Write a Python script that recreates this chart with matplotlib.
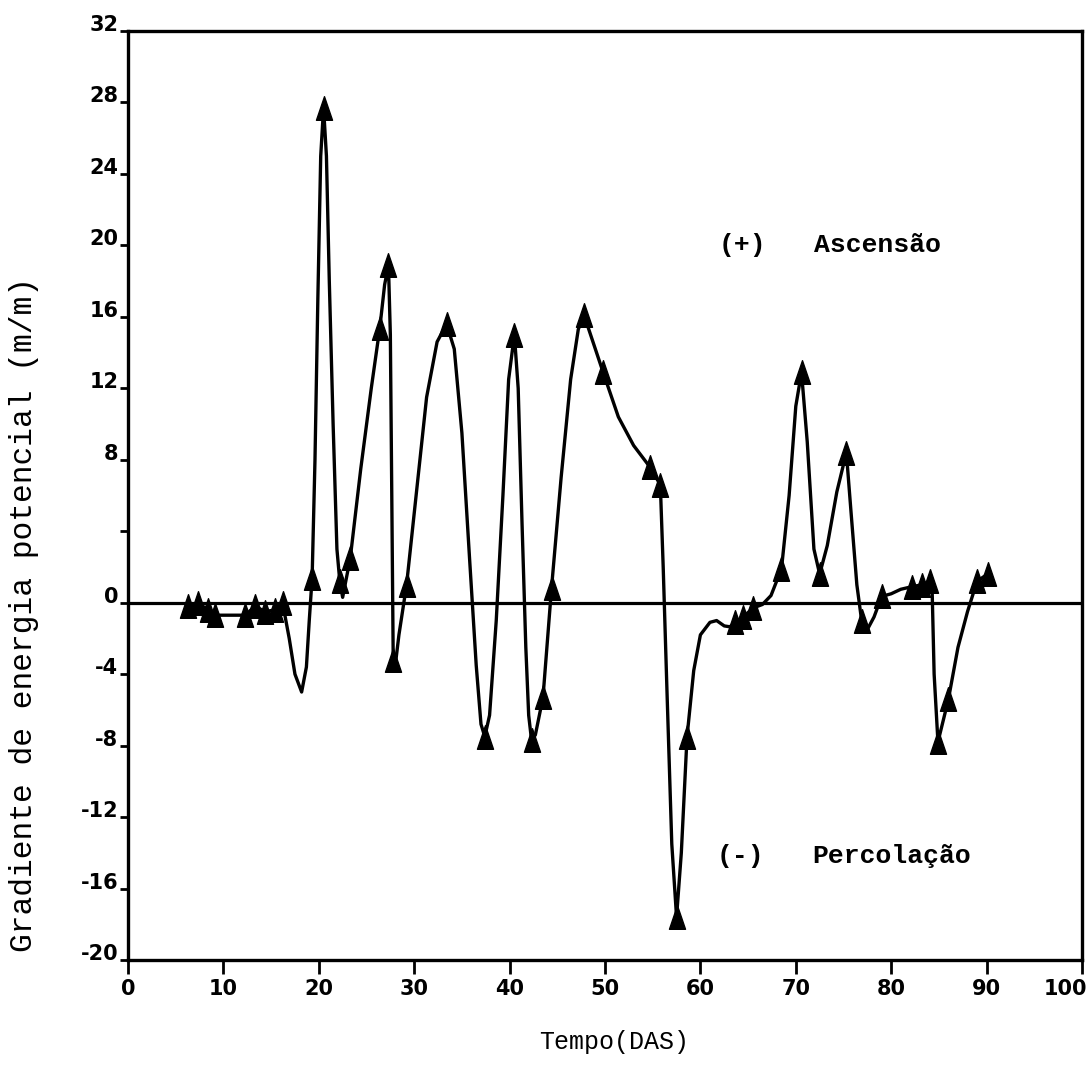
import matplotlib
matplotlib.use("Agg")
import matplotlib.pyplot as plt
from matplotlib.path import Path
from matplotlib.transforms import ScaledTranslation

# ---- data ----
# curve vertices (time in DAS, gradient in m/m)
curve_x = [6.3, 7.3, 8.4, 9.1, 12.3, 13.3, 14.4, 15.4, 16.2, 16.9, 17.5, 18.2, 18.7, 19.0,
           19.3, 19.6, 19.9, 20.2, 20.5, 20.8, 21.1, 21.5, 21.9, 22.2, 22.5, 23.3, 24.4,
           25.5, 26.4, 26.9, 27.3, 27.5, 27.65, 27.8, 27.95, 28.4, 29.2, 30.3, 31.3, 32.4,
           33.4, 34.2, 35.0, 35.8, 36.5, 37.0, 37.4, 37.9, 38.6, 39.3, 39.9, 40.5, 40.9,
           41.3, 41.7, 42.0, 42.3, 42.7, 43.5, 44.4, 45.4, 46.4, 47.2, 47.8, 49.8, 51.4,
           53.0, 54.7, 55.8, 56.1, 56.5, 57.0, 57.5, 58.0, 58.6, 59.3, 60.0, 61.0, 61.7,
           62.5, 63.1, 63.6, 64.5, 65.5, 66.5, 67.4, 68.5, 69.3, 70.0, 70.6, 71.2, 71.9,
           72.5, 73.3, 74.3, 75.3, 75.8, 76.4, 76.9, 77.5, 78.2, 79.0, 80.0, 81.0, 82.2,
           83.2, 84.1, 84.3, 84.5, 84.9, 86.0, 87.0, 88.0, 89.0, 90.1]
curve_y = [-0.2, 0.0, -0.4, -0.7, -0.7, -0.2, -0.5, -0.4, 0.0, -2.0, -4.0, -5.0, -3.6, -1.0,
           1.4, 8.0, 17.0, 25.0, 27.7, 25.0, 18.0, 10.0, 3.0, 1.2, 0.3, 2.5, 7.5,
           12.0, 15.4, 17.8, 18.9, 15.0, 6.0, -3.2, -3.8, -1.8, 1.0, 6.5, 11.5, 14.6,
           15.6, 14.2, 9.5, 2.5, -3.5, -6.8, -7.5, -6.3, -1.0, 6.0, 12.5, 15.0, 12.0,
           4.5, -2.5, -6.3, -7.7, -7.4, -5.3, 0.85, 7.0, 12.5, 15.3, 16.1, 12.9, 10.4,
           8.8, 7.6, 6.6, 2.0, -5.0, -13.5, -17.6, -14.0, -7.5, -3.8, -1.8, -1.1, -1.0,
           -1.3, -1.35, -1.1, -0.8, -0.3, -0.1, 0.4, 1.9, 6.0, 11.0, 12.9, 9.0, 3.0,
           1.6, 3.2, 6.2, 8.4, 5.0, 1.0, -1.0, -1.5, -0.8, 0.35, 0.5, 0.75, 0.9,
           1.0, 1.2, 0.5, -4.0, -7.8, -5.4, -2.5, -0.5, 1.2, 1.6]

# measured points (triangles)
mark_x = [6.3, 7.3, 8.4, 9.1, 12.3, 13.3, 14.4, 15.4, 16.2, 19.3, 20.5, 22.2, 23.3, 26.4,
          27.3, 27.8, 29.2, 33.4, 37.4, 40.5, 42.3, 43.5, 44.4, 47.8, 49.8, 54.7, 55.8,
          57.5, 58.6, 63.6, 64.5, 65.5, 68.5, 70.6, 72.5, 75.3, 76.9, 79.0, 82.2, 83.2,
          84.1, 84.9, 86.0, 89.0, 90.1]
mark_y = [-0.2, 0.0, -0.4, -0.7, -0.7, -0.2, -0.5, -0.4, 0.0, 1.4, 27.7, 1.2, 2.5, 15.4,
          18.9, -3.2, 1.0, 15.6, -7.5, 15.0, -7.7, -5.3, 0.85, 16.1, 12.9, 7.6, 6.6,
          -17.6, -7.5, -1.1, -0.8, -0.3, 1.9, 12.9, 1.6, 8.4, -1.0, 0.35, 0.9, 1.0,
          1.2, -7.8, -5.4, 1.2, 1.6]

x_ticks = [0, 10, 20, 30, 40, 50, 60, 70, 80, 90, 100]
x_ticklabels = ["0", "10", "20", "30", "40", "50", "60", "70", "80", "90", "100"]
y_ticks = [-20, -16, -12, -8, -4, 0, 4, 8, 12, 16, 20, 24, 28, 32]
y_ticklabels = ["-20", "-16", "-12", "-8", "-4", "0", "", "8", "12", "16", "20", "24", "28", "32"]

xlabel = "Tempo(DAS)"
ylabel = "Gradiente de energia potencial (m/m)"

# ---- figure ----
W, H = 1089, 1088
fig = plt.figure(figsize=(W / 100, H / 100), dpi=100)
ax = fig.add_axes([128 / W, 1 - 960 / H, (1082 - 128) / W, (960 - 31) / H])

ax.set_xlim(0, 100)
ax.set_ylim(-20, 32)

ax.axhline(0, color="black", lw=2.3, zorder=1)

tri = Path([(0, 1), (-0.68, -1), (0.68, -1), (0, 1)],
           [Path.MOVETO, Path.LINETO, Path.LINETO, Path.CLOSEPOLY])

ax.plot(curve_x, curve_y, color="black", lw=2.4, solid_joinstyle="round", zorder=2)
ax.plot(mark_x, mark_y, linestyle="none", marker=tri, markersize=17,
        color="black", zorder=3)

for s in ax.spines.values():
    s.set_linewidth(2.4)

ax.set_xticks(x_ticks)
ax.set_xticklabels(x_ticklabels)
ax.set_yticks(y_ticks)
ax.set_yticklabels(y_ticklabels)

ax.tick_params(axis="x", direction="out", length=10, width=2, pad=4,
               labelsize=15)
ax.tick_params(axis="y", direction="out", length=6, width=2, pad=1,
               labelsize=15)
for lab in ax.get_xticklabels() + ax.get_yticklabels():
    lab.set_fontweight("bold")
    lab.set_family("DejaVu Sans")
for lab in ax.get_yticklabels():
    lab.set_verticalalignment("baseline")

# keep the last x tick label inside the figure
last = ax.get_xticklabels()[-1]
last.set_horizontalalignment("right")
last.set_transform(last.get_transform() + ScaledTranslation(5 / 100, 0, fig.dpi_scale_trans))

ax.set_xlabel(xlabel, family="Liberation Mono", fontsize=18)
ax.xaxis.set_label_coords(0.51, -0.075)
ax.set_ylabel(ylabel, family="Liberation Mono", fontsize=22.5)
ax.yaxis.set_label_coords(-0.093, 0.372)

txt_kw = dict(family="Liberation Mono", fontweight="bold", fontsize=19,
              ha="center", va="center")
ax.text(64.4, 20.0, "(+)", **txt_kw)
ax.text(78.6, 20.0, "Ascensão", **txt_kw)
ax.text(64.2, -14.2, "(-)", **txt_kw)
ax.text(80.0, -14.2, "Percolação", **txt_kw)

fig.savefig("out.png", dpi=100)
